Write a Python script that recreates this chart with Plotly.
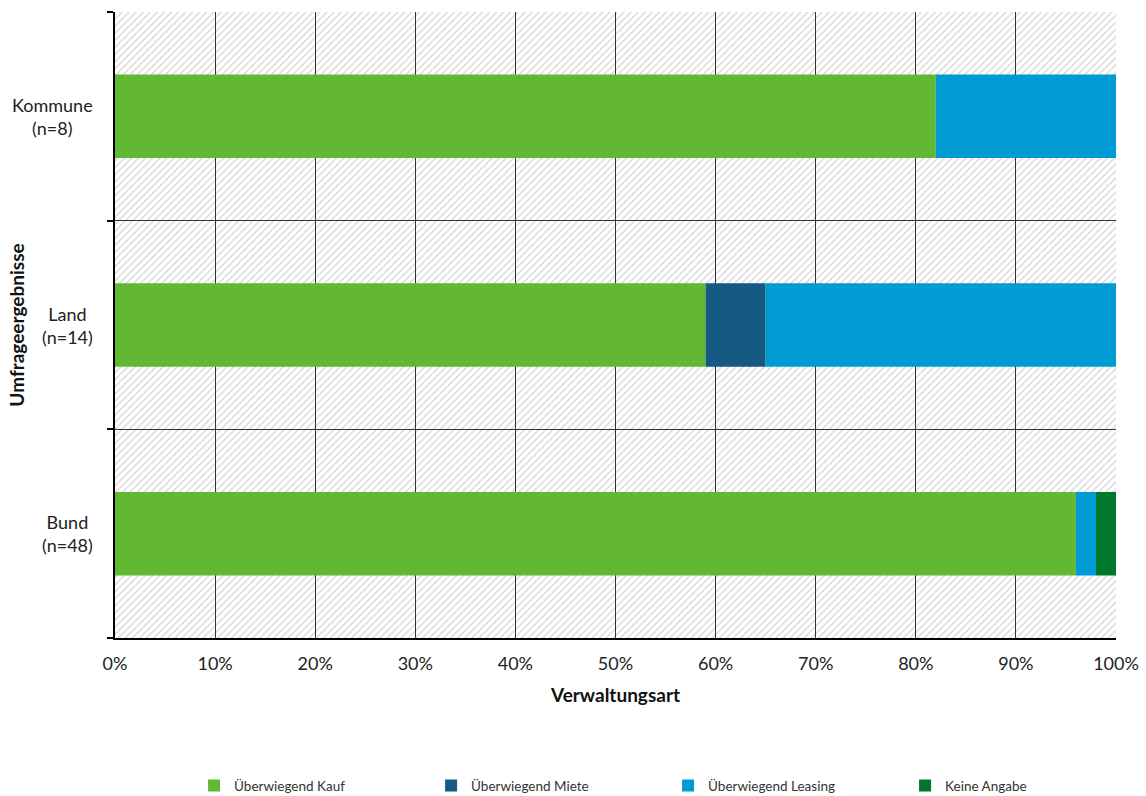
import plotly.graph_objects as go

categories = ["Bund<br>(n=48)", "Land<br>(n=14)", "Kommune<br>(n=8)"]
series_names = ["Überwiegend Kauf", "Überwiegend Miete", "Überwiegend Leasing", "Keine Angabe"]
kauf = [0.96, 0.59, 0.82]
miete = [0.00, 0.06, 0.00]
leasing = [0.02, 0.35, 0.18]
keine = [0.02, 0.00, 0.00]
colors = ["#62b833", "#145a82", "#009ad5", "#00782a"]
x_ticks = [0.0, 0.1, 0.2, 0.3, 0.4, 0.5, 0.6, 0.7, 0.8, 0.9, 1.0]

series = [kauf, miete, leasing, keine]
ypos = list(range(len(categories)))
yrange = [-0.5, len(categories) - 0.5]
bounds = [i - 0.5 for i in range(len(categories) + 1)]

FONT = "Lato, 'Open Sans', sans-serif"

fig = go.Figure()

# hatched background (bottom subplot, drawn under the gridlines)
fig.add_trace(go.Bar(
    y=ypos, x=[1.0] * len(categories), base=[0] * len(categories), orientation="h",
    width=1.0, showlegend=False, hoverinfo="skip", xaxis="x", yaxis="y",
    marker=dict(color="white", line=dict(width=0),
                pattern=dict(shape="/", fgcolor="#d6d6d6", bgcolor="white",
                             size=5, solidity=0.28, fillmode="replace")),
))

bases = [0.0] * len(categories)
for name, vals, col in zip(series_names, series, colors):
    fig.add_trace(go.Bar(
        y=ypos, x=vals, base=list(bases), orientation="h", name=name,
        width=0.4, marker=dict(color=col, line=dict(width=0)),
        xaxis="x2", yaxis="y2",
    ))
    bases = [b + v for b, v in zip(bases, vals)]

annotations = []
for yp, lab in zip(ypos, categories):
    annotations.append(dict(
        x=-0.02, xref="paper", y=(yp - yrange[0]) / (yrange[1] - yrange[0]), yref="paper",
        text=lab, showarrow=False, xanchor="right", yanchor="middle", align="center",
        font=dict(family=FONT, size=18, color="#222"),
    ))

fig.update_layout(
    barmode="overlay",
    width=1146, height=796,
    margin=dict(l=115, r=30, t=12, b=158, autoexpand=False),
    plot_bgcolor="rgba(0,0,0,0)", paper_bgcolor="white",
    font=dict(family=FONT, size=18, color="#222"),
    xaxis=dict(range=[0, 1], visible=False, domain=[0, 1], showgrid=False),
    yaxis=dict(range=yrange, visible=False, domain=[0, 1], showgrid=False),
    xaxis2=dict(
        range=[0, 1], tickvals=x_ticks, tickformat=".0%", anchor="y2", domain=[0, 1],
        showgrid=True, gridcolor="#333", gridwidth=1,
        showline=True, linecolor="black", linewidth=2,
        ticks="", zeroline=False, ticklabelstandoff=8,
        title=dict(text="<b>Verwaltungsart</b>", font=dict(family=FONT, size=19, color="#111"), standoff=16),
        tickfont=dict(size=18),
    ),
    yaxis2=dict(
        range=yrange, tickvals=ypos, ticktext=["" for _ in ypos], anchor="x2", domain=[0, 1],
        showgrid=False, zeroline=False,
        showline=True, linecolor="black", linewidth=2,
        ticks="",
        minor=dict(tickvals=bounds, ticks="outside", ticklen=6,
                   tickcolor="black", tickwidth=2, showgrid=True,
                   gridcolor="#333", gridwidth=1),
        title=dict(text="<b>Umfrageergebnisse</b>", font=dict(family=FONT, size=19, color="#111"), standoff=80),
    ),
    annotations=annotations,
    legend=dict(orientation="h", x=0.079, xanchor="left", y=-0.236, yanchor="middle",
                font=dict(family=FONT, size=13.5, color="#333"), entrywidth=192,
                traceorder="normal"),
)

fig.write_html("out.html")
